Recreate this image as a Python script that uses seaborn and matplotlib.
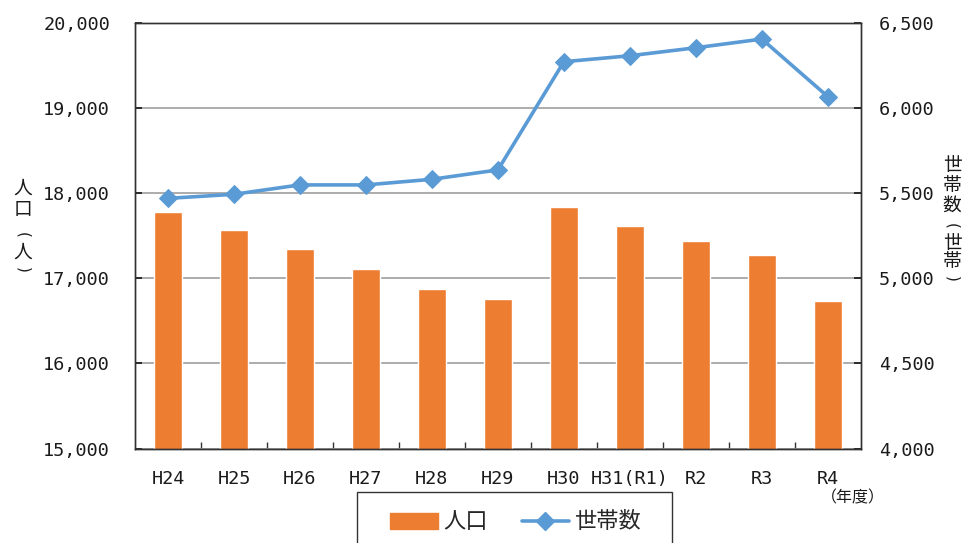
import matplotlib
matplotlib.use("Agg")
import matplotlib.pyplot as plt
from matplotlib.patches import Patch, Rectangle
from matplotlib.lines import Line2D
from matplotlib.ticker import FuncFormatter, FixedLocator
import seaborn as sns
import pandas as pd

# data
years = ["H24", "H25", "H26", "H27", "H28", "H29", "H30", "H31(R1)", "R2", "R3", "R4"]
population = [17775, 17567, 17344, 17109, 16871, 16761, 17833, 17614, 17438, 17277, 16733]
households = [5469, 5493, 5548, 5548, 5581, 5636, 6271, 6306, 6353, 6404, 6066]

df = pd.DataFrame({"year": years, "pop": population, "hh": households})

sns.set_theme(style="white")
plt.rcParams["font.family"] = ["DejaVu Sans Mono", "Noto Sans CJK JP"]
cjk = ["Noto Sans CJK JP", "DejaVu Sans"]

bar_color = "#ED7D31"
line_color = "#5B9BD5"
text_color = "#1a1a1a"

W, H = 964, 543
fig = plt.figure(figsize=(W / 100, H / 100), dpi=100)
ax = fig.add_axes([0.140, 0.1737, 0.753, 0.7845])

sns.barplot(data=df, x="year", y="pop", color=bar_color, width=0.42,
            saturation=1, ax=ax, zorder=2)
ax.set_ylim(15000, 20000)
ax.set_yticks(range(15000, 20001, 1000))
ax.yaxis.set_major_formatter(FuncFormatter(lambda v, p: f"{int(v):,}"))
ax.grid(axis="y", color="#a6a6a6", linewidth=1.3, zorder=0)
ax.set_axisbelow(True)
ax.set_xlabel("")
ax.set_ylabel("")

ax2 = ax.twinx()
sns.lineplot(data=df, x="year", y="hh", sort=False, color=line_color,
             linewidth=2.6, marker="D", markersize=9, markeredgecolor=line_color,
             ax=ax2)
ax2.set_ylim(4000, 6500)
ax2.set_yticks(range(4000, 6501, 500))
ax2.yaxis.set_major_formatter(FuncFormatter(lambda v, p: f"{int(v):,}"))
ax2.set_ylabel("")
ax2.set_xlabel("")
ax2.grid(False)
ax.set_xlim(-0.5, len(years) - 0.5)

for a in (ax, ax2):
    for s in a.spines.values():
        s.set_color("#333333")
        s.set_linewidth(1.0)

ax.tick_params(axis="y", direction="in", length=5, pad=18, labelsize=13.3, colors=text_color)
ax2.tick_params(axis="y", direction="in", length=5, pad=13, labelsize=13.3, colors=text_color)
ax.tick_params(axis="x", length=0, pad=15, labelsize=13.3, colors=text_color)
ax.xaxis.set_minor_locator(FixedLocator([i + 0.5 for i in range(len(years) - 1)]))
ax.tick_params(axis="x", which="minor", direction="in", length=5, color="#333333", bottom=True)


def stacked_label(x_px, items):
    # one character per line; brackets turned sideways like vertical text
    for ch, y_px in items:
        if ch in "()":
            fig.text(x_px / W, 1 - y_px / H, ch, family="DejaVu Sans", fontsize=11,
                     rotation=-90, ha="center", va="center", color=text_color)
        else:
            fig.text(x_px / W, 1 - y_px / H, ch, family=cjk, fontsize=13.5,
                     ha="center", va="center", color=text_color)


stacked_label(23, [("人", 188), ("口", 210), ("(", 235), ("人", 252), (")", 270)])
stacked_label(952, [("世", 165), ("帯", 185), ("数", 205), ("(", 226),
                    ("世", 243), ("帯", 262), (")", 279)])

fig.text(853 / W, 1 - 498 / H, "（年度）", family=cjk, fontsize=11.5,
         ha="center", va="center", color=text_color)

# legend below the plot, frame runs off the bottom edge
fig.add_artist(Rectangle((357 / W, -0.05), 315 / W, 0.05 + 1 - 492 / H,
                         transform=fig.transFigure, facecolor="white",
                         edgecolor="#333333", linewidth=1.0))
handles = [Patch(facecolor=bar_color, edgecolor=bar_color),
           Line2D([], [], color=line_color, linewidth=2.6, marker="D", markersize=9)]
fig.legend(handles, ["人口", "世帯数"], loc="center",
           bbox_to_anchor=(516 / W, 1 - 522 / H), ncol=2,
           prop={"family": cjk, "size": 16}, frameon=False,
           handlelength=2.15, handletextpad=0.25, columnspacing=1.5,
           borderpad=0, borderaxespad=0)

fig.savefig("out.png", dpi=100)
